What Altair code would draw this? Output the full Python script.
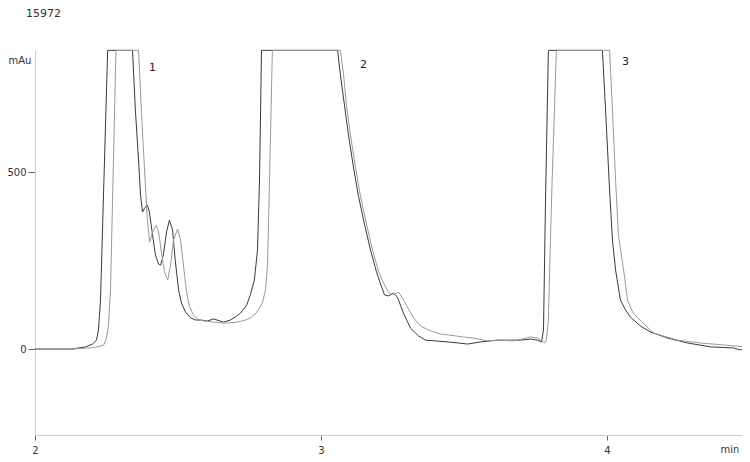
import altair as alt
import pandas as pd

# Run A (darker trace)
time_a = [2.000, 2.131, 2.177, 2.201, 2.215, 2.222, 2.229, 2.254, 2.341, 2.351,
          2.362, 2.369, 2.376, 2.383, 2.393, 2.400, 2.411, 2.421, 2.432, 2.439,
          2.449, 2.460, 2.470, 2.481, 2.491, 2.502, 2.512, 2.526, 2.544, 2.561,
          2.579, 2.603, 2.624, 2.659, 2.684, 2.705, 2.719, 2.740, 2.753, 2.767,
          2.778, 2.785, 2.792, 3.058, 3.068, 3.082, 3.096, 3.114, 3.131, 3.152,
          3.173, 3.194, 3.212, 3.222, 3.236, 3.253, 3.267, 3.288, 3.313, 3.341,
          3.365, 3.400, 3.442, 3.481, 3.512, 3.558, 3.617, 3.663, 3.698, 3.733,
          3.757, 3.771, 3.778, 3.785, 3.795, 3.984, 3.995, 4.009, 4.019, 4.030,
          4.047, 4.065, 4.082, 4.117, 4.152, 4.212, 4.282, 4.362, 4.442, 4.467,
          4.472]
mau_a = [0, 0, 6, 14, 25, 54, 138, 844, 844, 675,
         534, 435, 387, 398, 407, 387, 322, 266, 240, 237,
         266, 331, 364, 336, 246, 167, 130, 105, 88, 82,
         82, 79, 85, 76, 82, 93, 102, 124, 153, 195,
         280, 477, 844, 844, 774, 689, 605, 511, 432, 353,
         280, 218, 175, 153, 150, 158, 147, 102, 59, 37,
         25, 23, 20, 17, 14, 20, 25, 25, 25, 28,
         25, 20, 54, 421, 844, 844, 675, 449, 308, 223,
         138, 110, 90, 65, 48, 31, 17, 6, 3, -3,
         0]

# Run B (lighter trace)
time_b = [2.000, 2.131, 2.194, 2.229, 2.240, 2.250, 2.257, 2.264, 2.283, 2.362,
          2.372, 2.383, 2.393, 2.401, 2.411, 2.424, 2.432, 2.442, 2.453, 2.464,
          2.474, 2.484, 2.499, 2.509, 2.519, 2.530, 2.540, 2.554, 2.572, 2.596,
          2.624, 2.666, 2.708, 2.736, 2.753, 2.774, 2.795, 2.806, 2.813, 2.820,
          2.830, 3.068, 3.079, 3.089, 3.103, 3.121, 3.138, 3.159, 3.180, 3.201,
          3.219, 3.233, 3.243, 3.257, 3.271, 3.285, 3.302, 3.323, 3.348, 3.383,
          3.418, 3.442, 3.498, 3.533, 3.582, 3.617, 3.673, 3.733, 3.757, 3.771,
          3.781, 3.788, 3.795, 3.806, 3.823, 4.009, 4.019, 4.030, 4.040, 4.058,
          4.072, 4.089, 4.107, 4.163, 4.247, 4.327, 4.472]
mau_b = [0, 0, 3, 8, 11, 31, 68, 167, 844, 844,
         675, 506, 364, 302, 331, 350, 331, 274, 218, 195,
         237, 308, 339, 308, 237, 161, 121, 96, 82, 79,
         76, 73, 76, 82, 88, 102, 130, 167, 237, 477,
         844, 844, 774, 689, 605, 511, 432, 353, 280, 220,
         186, 164, 155, 155, 161, 144, 119, 88, 65, 51,
         42, 40, 34, 31, 23, 25, 23, 34, 31, 23,
         17, 25, 82, 421, 844, 844, 675, 477, 322, 223,
         138, 105, 88, 45, 25, 17, 7]

peak_labels = ["1", "2", "3"]
peak_time = [2.411, 3.149, 4.065]
peak_mau = [794, 802, 811]

x_ticks = [2, 3, 4]
y_ticks = [0, 500]

FONT = "DejaVu Sans"

df = pd.concat([
    pd.DataFrame({"t": time_a, "mAu": mau_a, "run": "A"}),
    pd.DataFrame({"t": time_b, "mAu": mau_b, "run": "B"}),
], ignore_index=True)
labels_df = pd.DataFrame({"t": peak_time, "mAu": peak_mau, "label": peak_labels})

x_enc = alt.X(
    "t:Q",
    scale=alt.Scale(domain=[2, 4.472], nice=False, zero=False),
    axis=alt.Axis(
        values=x_ticks, format="d", grid=False, labelFlush=False,
        title="min", titleX=685, titleY=14, titleAngle=0, titleAlign="left",
        titleBaseline="middle", titleFont=FONT, titleFontSize=10,
        titleFontWeight="normal", titleColor="#333333",
        domainColor="#cccccc", tickColor="#666666", tickSize=5,
        labelPadding=5, labelFont=FONT, labelFontSize=10, labelColor="#333333",
    ),
)
y_enc = alt.Y(
    "mAu:Q",
    scale=alt.Scale(domain=[-243, 845], nice=False, zero=False),
    axis=alt.Axis(
        values=y_ticks, grid=False,
        title="mAu", titleX=-27, titleY=10, titleAngle=0, titleAlign="left",
        titleBaseline="middle", titleFont=FONT, titleFontSize=10,
        titleFontWeight="normal", titleColor="#333333",
        domainColor="#cccccc", tickColor="#666666", tickSize=7,
        labelPadding=2, labelFont=FONT, labelFontSize=10, labelColor="#333333",
    ),
)

lines = alt.Chart(df).mark_line(strokeWidth=1).encode(
    x=x_enc,
    y=y_enc,
    color=alt.Color("run:N", scale=alt.Scale(domain=["A", "B"], range=["#3a3a3a", "#9a9a9a"]), legend=None),
)

texts = alt.Chart(labels_df).mark_text(font=FONT, fontSize=11, color="#222222", align="center", baseline="middle").encode(
    x="t:Q", y="mAu:Q", text="label:N"
)

chart = alt.layer(lines, texts).properties(
    width=707,
    height=385,
    autosize=alt.AutoSizeParams(type="none"),
    padding={"left": 27, "top": 42, "right": 0, "bottom": 19},
    title=alt.TitleParams(
        "15972", anchor="start", frame="group", dx=-9, offset=29, font=FONT,
        fontSize=11, fontWeight="normal", color="#333333",
    ),
).configure_view(stroke=None)

chart.save("out.html", embed_options={"renderer": "svg", "actions": False})
